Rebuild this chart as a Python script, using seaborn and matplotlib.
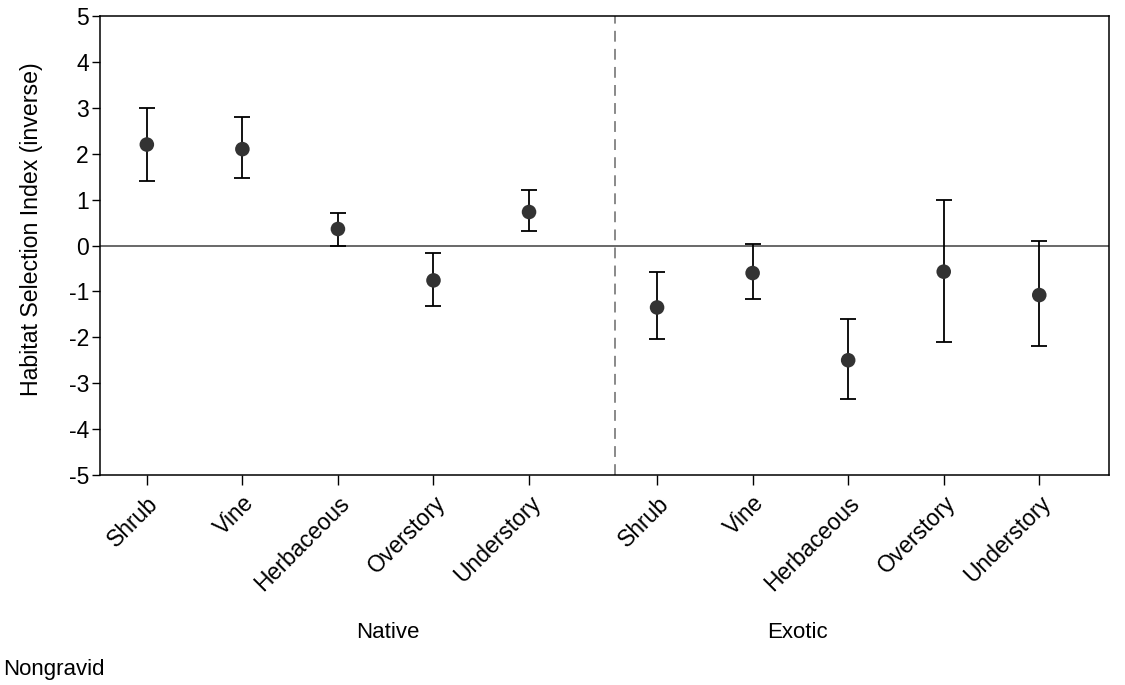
import numpy as np
import pandas as pd
import matplotlib.pyplot as plt
import seaborn as sns
from matplotlib.transforms import blended_transform_factory

# habitat classes, native group then exotic group
classes = ["Shrub", "Vine", "Herbaceous", "Overstory", "Understory"]
groups = ["Native", "Exotic"]

native_mean = [2.20, 2.10, 0.36, -0.76, 0.73]
native_upper = [3.00, 2.79, 0.71, -0.17, 1.20]
native_lower = [1.40, 1.46, 0.00, -1.32, 0.31]

exotic_mean = [-1.35, -0.60, -2.50, -0.57, -1.08]
exotic_upper = [-0.58, 0.04, -1.60, 0.99, 0.10]
exotic_lower = [-2.04, -1.16, -3.34, -2.11, -2.18]


def main():
    sns.set_style("ticks")
    plt.rcParams["font.family"] = ["Liberation Sans", "DejaVu Sans"]
    plt.rcParams["font.size"] = 16
    plt.rcParams["axes.unicode_minus"] = False
    plt.rcParams["text.color"] = "black"
    plt.rcParams["axes.labelcolor"] = "black"
    plt.rcParams["xtick.color"] = "black"
    plt.rcParams["ytick.color"] = "black"

    # x positions: exotic group shifted right a bit more than one slot
    gap = 1.34
    pos = list(range(5)) + [4 + gap + i for i in range(5)]

    df = pd.DataFrame({
        "x": pos,
        "group": ["Native"] * 5 + ["Exotic"] * 5,
        "habitat": classes * 2,
        "mean": native_mean + exotic_mean,
        "upper": native_upper + exotic_upper,
        "lower": native_lower + exotic_lower,
    })

    fig = plt.figure(figsize=(11.25, 6.85), dpi=100)
    ax = fig.add_axes([0.0889, 0.3066, 0.8969, 0.670])

    ax.axhline(0, color="#404040", lw=1.1, zorder=1)
    ax.axvline(4.90, color="#808080", lw=1.3, ls=(0, (6, 4)), zorder=1)

    yerr = np.vstack([df["mean"] - df["lower"], df["upper"] - df["mean"]])
    ax.errorbar(df["x"], df["mean"], yerr=yerr, fmt="none", ecolor="black",
                elinewidth=1.3, capsize=6, capthick=1.3, zorder=2)
    sns.scatterplot(data=df, x="x", y="mean", color="#333333", s=110,
                    edgecolor="none", legend=False, zorder=3, ax=ax)

    ax.set_xlim(-0.49, 10.07)
    ax.set_ylim(-5, 5)
    ax.set_yticks(range(-5, 6))
    ax.set_xticks(df["x"])
    ax.set_xticklabels(df["habitat"], rotation=45, ha="right",
                       rotation_mode="anchor")
    ax.set_xlabel("")
    ax.set_ylabel("Habitat Selection Index (inverse)", fontsize=16.7)
    ax.yaxis.set_label_coords(-0.0565, 0.536)
    ax.tick_params(axis="x", length=7, width=1, pad=5, labelsize=16.5)
    ax.tick_params(axis="y", length=6, width=1, pad=2, labelsize=16.5)
    for s in ax.spines.values():
        s.set_linewidth(1.1)
        s.set_color("black")

    trans = blended_transform_factory(ax.transData, ax.transAxes)
    ax.text(2.52, -0.344, "Native", transform=trans, ha="center",
            va="center", fontsize=16)
    ax.text(6.81, -0.344, "Exotic", transform=trans, ha="center",
            va="center", fontsize=16)
    fig.text(0.003, 0.022, "Nongravid", ha="left", va="center", fontsize=16)

    fig.savefig("out.png", dpi=100)


main()
